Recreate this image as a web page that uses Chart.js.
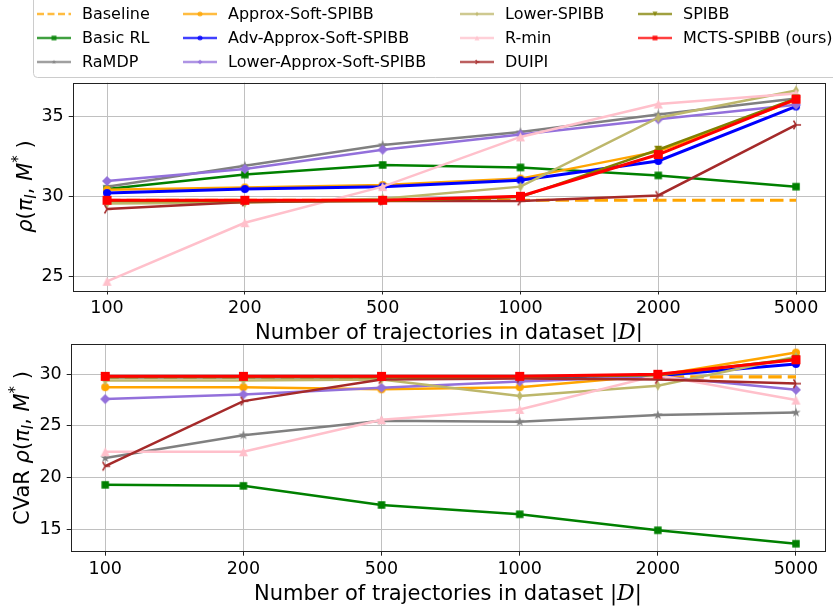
<!DOCTYPE html>
<html>
<head>
<meta charset="utf-8">
<script src="https://cdn.jsdelivr.net/npm/chart.js@4.4.1/dist/chart.umd.min.js"></script>
<style>
  html, body { margin: 0; padding: 0; background: #fff; overflow: hidden; }
  #wrap { position: relative; width: 833px; height: 608px; }
  canvas { position: absolute; left: 0; }
  #topChart { top: 0; }
  #bottomChart { top: 320px; }
</style>
</head>
<body>
<div id="wrap">
  <canvas id="topChart" width="833" height="342"></canvas>
  <canvas id="bottomChart" width="833" height="288"></canvas>
</div>
<script>
// ---------- data ----------
const xLabels = ['100', '200', '500', '1000', '2000', '5000'];
const seriesNames = ['Baseline', 'Basic RL', 'RaMDP', 'Approx-Soft-SPIBB', 'Adv-Approx-Soft-SPIBB',
  'Lower-Approx-Soft-SPIBB', 'Lower-SPIBB', 'R-min', 'DUIPI', 'SPIBB', 'MCTS-SPIBB (ours)'];

// mean performance (top panel)
const meanBaseline        = [29.75, 29.75, 29.75, 29.75, 29.75, 29.75];
const meanBasicRL         = [30.45, 31.35, 31.95, 31.8, 31.3, 30.6];
const meanRaMDP           = [30.6, 31.9, 33.2, 34.0, 35.1, 36.1];
const meanApproxSoft      = [30.4, 30.55, 30.7, 31.1, 32.8, 36.0];
const meanAdvApproxSoft   = [30.2, 30.45, 30.6, 31.0, 32.2, 35.6];
const meanLowerApproxSoft = [30.95, 31.7, 32.9, 33.85, 34.8, 35.7];
const meanLowerSPIBB      = [29.55, 29.6, 29.85, 30.6, 34.9, 36.6];
const meanRmin            = [24.7, 28.35, 30.6, 33.7, 35.75, 36.4];
const meanDUIPI           = [29.2, 29.65, 29.7, 29.7, 30.05, 34.45];
const meanSPIBB           = [29.7, 29.7, 29.7, 29.95, 32.9, 36.1];
const meanMCTS            = [29.75, 29.75, 29.75, 30.0, 32.6, 36.05];

// CVaR (bottom panel)
const cvarBaseline        = [29.75, 29.75, 29.75, 29.75, 29.75, 29.75];
const cvarBasicRL         = [19.3, 19.2, 17.35, 16.45, 14.9, 13.6];
const cvarRaMDP           = [21.9, 24.1, 25.5, 25.4, 26.05, 26.3];
const cvarApproxSoft      = [28.75, 28.75, 28.55, 28.75, 29.9, 32.1];
const cvarAdvApproxSoft   = [29.75, 29.75, 29.75, 29.75, 29.85, 31.0];
const cvarLowerApproxSoft = [27.6, 28.05, 28.7, 29.3, 29.8, 28.5];
const cvarLowerSPIBB      = [29.4, 29.4, 29.5, 27.9, 28.9, 31.7];
const cvarRmin            = [22.5, 22.5, 25.6, 26.6, 29.9, 27.5];
const cvarDUIPI           = [21.1, 27.4, 29.5, 29.6, 29.5, 29.1];
const cvarSPIBB           = [29.7, 29.7, 29.7, 29.75, 29.9, 31.5];
const cvarMCTS            = [29.8, 29.8, 29.8, 29.8, 30.0, 31.4];

const meanTicks = [25, 30, 35];
const cvarTicks = [15, 20, 25, 30];

// ---------- styles ----------
const seriesColors = ['#ffa500', '#008000', '#808080', '#ffa500', '#0000ff', '#9370db',
  '#bdb76b', '#ffc0cb', '#a52a2a', '#808000', '#ff0000'];
const markerKinds = ['none', 'square', 'star', 'circle', 'circle', 'diamond',
  'thinDiamond', 'triangle', 'triRight', 'triangleDown', 'square'];
const markerSizes = [0, 7.5, 10, 8, 8, 10, 10, 9, 10, 8, 9];
const lineWidths = [3.2, 2.5, 2.5, 2.5, 3, 2.5, 2.5, 2.5, 2.5, 2.5, 3];

// draws one matplotlib-like marker centred at cx, cy
function drawMarker(ctx, kind, cx, cy, s, color) {
  const h = s / 2;
  ctx.fillStyle = color;
  ctx.strokeStyle = color;
  ctx.beginPath();
  if (kind === 'square') {
    ctx.rect(cx - h, cy - h, s, s);
  } else if (kind === 'circle') {
    ctx.arc(cx, cy, h, 0, Math.PI * 2);
  } else if (kind === 'diamond') {
    ctx.moveTo(cx, cy - h); ctx.lineTo(cx + h, cy); ctx.lineTo(cx, cy + h); ctx.lineTo(cx - h, cy);
  } else if (kind === 'thinDiamond') {
    ctx.moveTo(cx, cy - h); ctx.lineTo(cx + h * 0.6, cy); ctx.lineTo(cx, cy + h); ctx.lineTo(cx - h * 0.6, cy);
  } else if (kind === 'triangle') {
    ctx.moveTo(cx, cy - h); ctx.lineTo(cx + h, cy + h); ctx.lineTo(cx - h, cy + h);
  } else if (kind === 'triangleDown') {
    ctx.moveTo(cx, cy + h); ctx.lineTo(cx + h, cy - h); ctx.lineTo(cx - h, cy - h);
  } else if (kind === 'star') {
    for (let k = 0; k < 10; k++) {
      const r = k % 2 === 0 ? h : h * 0.4;
      const a = -Math.PI / 2 + k * Math.PI / 5;
      const px = cx + r * Math.cos(a), py = cy + r * Math.sin(a);
      if (k === 0) ctx.moveTo(px, py); else ctx.lineTo(px, py);
    }
  } else if (kind === 'triRight') {
    ctx.lineWidth = 1.6;
    ctx.moveTo(cx, cy); ctx.lineTo(cx + h, cy);
    ctx.moveTo(cx, cy); ctx.lineTo(cx - h * 0.5, cy - h * 0.87);
    ctx.moveTo(cx, cy); ctx.lineTo(cx - h * 0.5, cy + h * 0.87);
    ctx.stroke();
    return;
  }
  ctx.closePath();
  ctx.fill();
}

function markerImage(kind, s, color) {
  const c = document.createElement('canvas');
  const n = Math.ceil(s + 4);
  c.width = n; c.height = n;
  drawMarker(c.getContext('2d'), kind, n / 2, n / 2, s, color);
  return c;
}

const markerImages = markerKinds.map((k, i) => k === 'none' ? false : markerImage(k, markerSizes[i], seriesColors[i]));

function buildDatasets(seriesList) {
  const n = seriesList.length;
  return seriesList.map((vals, i) => ({
    label: seriesNames[i],
    data: vals.map((v, j) => ({ x: j, y: v })),
    borderColor: seriesColors[i],
    backgroundColor: seriesColors[i],
    borderWidth: lineWidths[i],
    borderDash: i === 0 ? [13.5, 6] : [],
    pointStyle: markerImages[i],
    pointRadius: markerKinds[i] === 'none' ? 0 : 5,
    tension: 0,
    order: n - i
  }));
}

// ---------- plugins ----------
function drawRich(ctx, segs, cx, cy, rot, dy) {
  ctx.save();
  let total = 0;
  segs.forEach(s => { ctx.font = s.f; s.w = ctx.measureText(s.t).width; total += s.w; });
  ctx.translate(cx, cy);
  ctx.rotate(rot);
  ctx.textBaseline = 'alphabetic';
  ctx.textAlign = 'left';
  ctx.fillStyle = '#000';
  let x = -total / 2;
  segs.forEach(s => { ctx.font = s.f; ctx.fillText(s.t, x, dy + (s.dy || 0)); x += s.w; });
  ctx.restore();
}

const axisTitles = {
  id: 'axisTitles',
  afterDraw(chart, args, opts) {
    const a = chart.chartArea;
    drawRich(chart.ctx, opts.x, (a.left + a.right) / 2, a.bottom + opts.xGap, 0, 0);
    drawRich(chart.ctx, opts.y, a.left - opts.yGap, (a.top + a.bottom) / 2, -Math.PI / 2, 7);
  }
};

const frameBox = {
  id: 'frameBox',
  afterDatasetsDraw(chart) {
    const { ctx, chartArea: a } = chart;
    ctx.save();
    ctx.strokeStyle = '#222';
    ctx.lineWidth = 1;
    ctx.strokeRect(Math.round(a.left) + 0.5, Math.round(a.top) + 0.5,
      Math.round(a.right - a.left), Math.round(a.bottom - a.top));
    ctx.restore();
  }
};

const legendGrid = {
  id: 'legendGrid',
  afterDraw(chart, args, opts) {
    if (!opts.show) return;
    const ctx = chart.ctx;
    ctx.save();
    ctx.fillStyle = 'rgba(255,255,255,0.95)';
    ctx.strokeStyle = '#cccccc';
    ctx.lineWidth = 1;
    ctx.beginPath();
    ctx.roundRect(33.5, -10, 830, 87.5, 4);
    ctx.fill();
    ctx.stroke();
    ctx.font = '16px "DejaVu Sans"';
    ctx.textBaseline = 'middle';
    chart.data.datasets.forEach((ds, i) => {
      const col = Math.floor(i / 3), row = i % 3;
      const x0 = opts.colX[col], y = opts.rowY[row];
      ctx.globalAlpha = 0.75;
      ctx.strokeStyle = ds.borderColor;
      ctx.lineWidth = Math.min(ds.borderWidth, 2.6);
      ctx.setLineDash(i === 0 ? [7, 3.5] : []);
      ctx.beginPath();
      ctx.moveTo(x0, y); ctx.lineTo(x0 + 34, y);
      ctx.stroke();
      ctx.setLineDash([]);
      if (markerKinds[i] !== 'none') drawMarker(ctx, markerKinds[i], x0 + 17, y, 5, ds.borderColor);
      ctx.globalAlpha = 1;
      ctx.fillStyle = '#000';
      ctx.fillText(ds.label, x0 + 45, y + 1);
    });
    ctx.restore();
  }
};

Chart.defaults.font.family = 'DejaVu Sans';
Chart.defaults.color = '#000';

function makeOptions(cfg) {
  return {
    responsive: false,
    animation: false,
    events: [],
    devicePixelRatio: 1,
    layout: { padding: { top: cfg.padTop, right: 1, left: 0, bottom: 0 } },
    plugins: {
      legend: { display: false },
      tooltip: { enabled: false },
      legendGrid: { show: cfg.legend, colX: [37, 183, 460, 638], rowY: [14, 38, 62] },
      axisTitles: { x: cfg.xTitle, y: cfg.yTitle, xGap: 48, yGap: cfg.yGap }
    },
    scales: {
      x: {
        type: 'linear',
        min: cfg.xMin,
        max: cfg.xMax,
        afterBuildTicks: axis => { axis.ticks = xLabels.map((_, i) => ({ value: i })); },
        afterFit: axis => { axis.height = cfg.xHeight; },
        ticks: {
          callback: v => xLabels[v],
          font: { size: 17.5 },
          color: '#000',
          padding: 3,
          autoSkip: false,
          maxRotation: 0
        },
        grid: { color: '#c0c0c0', lineWidth: 1, tickColor: '#222', tickLength: 4 },
        border: { display: false }
      },
      y: {
        min: cfg.yMin,
        max: cfg.yMax,
        afterBuildTicks: axis => { axis.ticks = cfg.yTicks.map(v => ({ value: v })); },
        afterFit: axis => { axis.width = cfg.yWidth; },
        ticks: { font: { size: 17.5 }, color: '#000', padding: 5 },
        grid: { color: '#c0c0c0', lineWidth: 1, tickColor: '#222', tickLength: 4 },
        border: { display: false }
      }
    }
  };
}

const xTitleSegs = [
  { t: 'Number of trajectories in dataset |', f: '21px "DejaVu Sans"' },
  { t: 'D', f: 'italic 22px "DejaVu Serif"' },
  { t: '|', f: '21px "DejaVu Sans"' }
];
const rhoSegs = [
  { t: 'ρ', f: 'oblique 21px "DejaVu Sans"' },
  { t: '(', f: '21px "DejaVu Sans"' },
  { t: 'π', f: 'oblique 21px "DejaVu Sans"' },
  { t: 'I', f: 'oblique 15px "DejaVu Sans"', dy: 4 },
  { t: ', ', f: '21px "DejaVu Sans"' },
  { t: 'M', f: 'oblique 21px "DejaVu Sans"' },
  { t: '*', f: '15px "DejaVu Sans"', dy: -9 },
  { t: ' )', f: '21px "DejaVu Sans"' }
];

new Chart(document.getElementById('topChart'), {
  type: 'line',
  data: {
    datasets: buildDatasets([meanBaseline, meanBasicRL, meanRaMDP, meanApproxSoft, meanAdvApproxSoft,
      meanLowerApproxSoft, meanLowerSPIBB, meanRmin, meanDUIPI, meanSPIBB, meanMCTS])
  },
  options: makeOptions({
    padTop: 82.7, xHeight: 51.5, yWidth: 72.7, xMin: -0.249, xMax: 5.21,
    yMin: 24.125, yMax: 37.08, yTicks: meanTicks, legend: true,
    xTitle: xTitleSegs, yTitle: rhoSegs, yGap: 48
  }),
  plugins: [frameBox, axisTitles, legendGrid]
});

new Chart(document.getElementById('bottomChart'), {
  type: 'line',
  data: {
    datasets: buildDatasets([cvarBaseline, cvarBasicRL, cvarRaMDP, cvarApproxSoft, cvarAdvApproxSoft,
      cvarLowerApproxSoft, cvarLowerSPIBB, cvarRmin, cvarDUIPI, cvarSPIBB, cvarMCTS])
  },
  options: makeOptions({
    padTop: 24.3, xHeight: 56.3, yWidth: 70.7, xMin: -0.25, xMax: 5.21,
    yMin: 12.83, yMax: 32.9, yTicks: cvarTicks, legend: false,
    xTitle: xTitleSegs, yTitle: [{ t: 'CVaR ', f: '21px "DejaVu Sans"' }].concat(rhoSegs), yGap: 49
  }),
  plugins: [frameBox, axisTitles, legendGrid]
});
</script>
</body>
</html>
